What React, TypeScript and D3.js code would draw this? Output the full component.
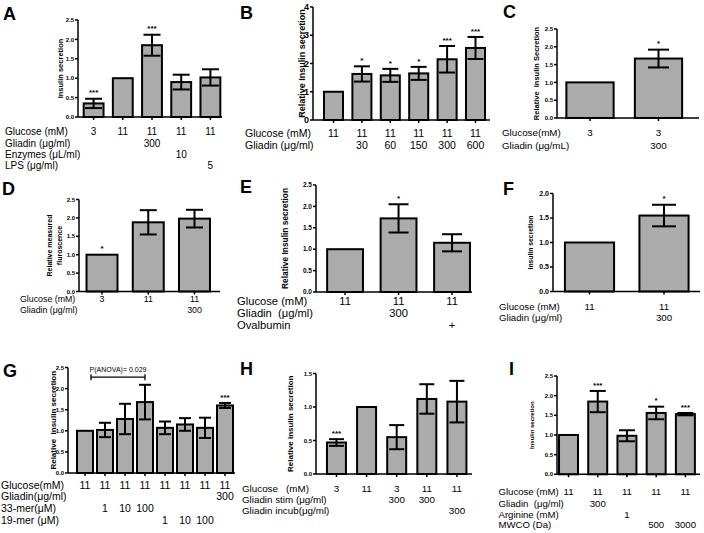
import React from "react";
import * as d3 from "d3";

const FONT = "'Liberation Sans', Arial, Helvetica, sans-serif";

// ---------- DATA ----------
// Panel A
const aValues = [0.35, 1.0, 1.85, 0.9, 1.02];
const aErrors = [0.12, 0, 0.27, 0.19, 0.21];
const aStars = ["***", "", "***", "", ""];
const aRowLabels = ["Glucose (mM)", "Gliadin (μg/ml)", "Enzymes (μL/ml)", "LPS (μg/ml)"];
const aRowValues = [
  ["3", "11", "11", "11", "11"],
  ["", "", "300", "", ""],
  ["", "", "", "10", ""],
  ["", "", "", "", "5"],
];

// Panel B
const bValues = [1.0, 1.63, 1.58, 1.65, 2.15, 2.55];
const bErrors = [0, 0.27, 0.23, 0.23, 0.47, 0.39];
const bStars = ["", "*", "*", "*", "***", "***"];
const bRowLabels = ["Glucose (mM)", "Gliadin (μg/ml)"];
const bRowValues = [
  ["11", "11", "11", "11", "11", "11"],
  ["", "30", "60", "150", "300", "600"],
];

// Panel C
const cValues = [1.0, 1.67];
const cErrors = [0, 0.25];
const cStars = ["", "*"];
const cRowLabels = ["Glucose(mM)", "Gliadin (μg/mL)"];
const cRowValues = [
  ["3", "3"],
  ["", "300"],
];

// Panel D
const dValues = [1.0, 1.88, 1.98];
const dErrors = [0, 0.33, 0.24];
const dStars = ["*", "", ""];
const dRowLabels = ["Glucose (mM)", "Gliadin (μg/ml)"];
const dRowValues = [
  ["3", "11", "11"],
  ["", "", "300"],
];

// Panel E
const eValues = [1.0, 1.72, 1.15];
const eErrors = [0, 0.33, 0.2];
const eStars = ["", "*", ""];
const eRowLabels = ["Glucose (mM)", "Gliadin  (μg/ml)", "Ovalbumin"];
const eRowValues = [
  ["11", "11", "11"],
  ["", "300", ""],
  ["", "", "+"],
];

// Panel F
const fValues = [1.0, 1.55];
const fErrors = [0, 0.22];
const fStars = ["", "*"];
const fRowLabels = ["Glucose (mM)", "Gliadin (μg/ml)"];
const fRowValues = [
  ["11", "11"],
  ["", "300"],
];

// Panel G
const gValues = [1.0, 1.02, 1.28, 1.68, 1.07, 1.15, 1.07, 1.6];
const gErrors = [0, 0.17, 0.36, 0.41, 0.15, 0.15, 0.24, 0.06];
const gStars = ["", "", "", "", "", "", "", "***"];
const gRowLabels = ["Glucose(mM)", "Gliadin(μg/ml)", "33-mer(μM)", "19-mer (μM)"];
const gRowValues = [
  ["11", "11", "11", "11", "11", "11", "11", "11"],
  ["", "", "", "", "", "", "", "300"],
  ["", "1", "10", "100", "", "", "", ""],
  ["", "", "", "", "1", "10", "100", ""],
];
const gAnovaText = "P(ANOVA)= 0.029";
const gAnovaFrom = 0;
const gAnovaTo = 3;
const gAnovaLevel = 2.27;

// Panel H
const hValues = [0.47, 1.0, 0.55, 1.12, 1.08];
const hErrors = [0.05, 0, 0.18, 0.22, 0.31];
const hStars = ["***", "", "", "", ""];
const hRowLabels = ["Glucose   (mM)", "Gliadin stim (μg/ml)", "Gliadin incub(μg/ml)"];
const hRowValues = [
  ["3", "11", "3", "11", "11"],
  ["", "", "300", "300", ""],
  ["", "", "", "", "300"],
];

// Panel I
const iValues = [1.0, 1.85, 0.98, 1.56, 1.53];
const iErrors = [0, 0.27, 0.14, 0.16, 0.03];
const iStars = ["", "***", "", "*", "***"];
const iRowLabels = ["Glucose (mM)", "Gliadin  (μg/ml)", "Arginine (mM)", "MWCO (Da)"];
const iRowValues = [
  ["11", "11", "11", "11", "11"],
  ["", "300", "", "", ""],
  ["", "", "1", "", ""],
  ["", "", "", "500", "3000"],
];

// ---------- LAYOUT ----------
type Layout = {
  letter: string; lx: number; ly: number;
  axisX: number; axisEnd: number; yTop: number; yBottom: number;
  yMax: number; yStep: number; fmt: string; tickFont: number;
  band: [number, number]; pad: number; cap: number;
  title: string[]; titleX: number; titleFont: number; titleGap?: number;
  rowX: number; rowYs: number[]; rowFont: number;
  starFont?: number;
};

type PanelData = {
  values: number[]; errors: number[]; stars: string[];
  rowLabels: string[]; rowValues: string[][];
};

const FILL = "#ababab";

function Panel({ L, D, children }: { L: Layout; D: PanelData; children?: (x: any, y: any) => React.ReactNode }) {
  const y = d3.scaleLinear().domain([0, L.yMax]).range([L.yBottom, L.yTop]);
  const x = d3
    .scaleBand<number>()
    .domain(d3.range(D.values.length))
    .range(L.band)
    .paddingInner(L.pad)
    .paddingOuter(L.pad / 2);
  const bw = x.bandwidth();
  const ticks = d3.range(0, L.yMax + 1e-9, L.yStep);
  const fmt = d3.format(L.fmt);
  const cy = (L.yTop + L.yBottom) / 2;
  const sf = L.starFont ?? 8;
  const tg = L.titleGap ?? 10;
  return (
    <g>
      <text x={L.lx} y={L.ly} fontSize={18} fontWeight="bold" fontFamily={FONT}>
        {L.letter}
      </text>
      {D.values.map((v, i) => (
        <rect
          key={"b" + i}
          x={x(i)}
          y={y(v)}
          width={bw}
          height={L.yBottom - y(v)}
          fill={FILL}
          stroke="#000"
          strokeWidth={2}
        />
      ))}
      {D.values.map((v, i) => {
        const e = D.errors[i];
        if (!e) return null;
        const cx = (x(i) as number) + bw / 2;
        const y1 = y(v + e);
        const y2 = y(v - e);
        return (
          <g key={"e" + i} stroke="#000" strokeWidth={2}>
            <line x1={cx} x2={cx} y1={y1} y2={y2} />
            <line x1={cx - L.cap / 2} x2={cx + L.cap / 2} y1={y1} y2={y1} />
            <line x1={cx - L.cap / 2} x2={cx + L.cap / 2} y1={y2} y2={y2} />
          </g>
        );
      })}
      {D.values.map((v, i) =>
        D.stars[i] ? (
          <text
            key={"s" + i}
            x={(x(i) as number) + bw / 2}
            y={y(v + D.errors[i]) - 8 + 0.58 * sf}
            fontSize={sf}
            fontWeight="bold"
            textAnchor="middle"
            fontFamily={FONT}
          >
            {D.stars[i]}
          </text>
        ) : null
      )}
      <g stroke="#000" strokeWidth={1.5}>
        <line x1={L.axisX} x2={L.axisX} y1={L.yTop} y2={L.yBottom} />
        <line x1={L.axisX} x2={L.axisEnd} y1={L.yBottom} y2={L.yBottom} />
        {ticks.map((t, i) => (
          <line key={"t" + i} x1={L.axisX - 3} x2={L.axisX} y1={y(t)} y2={y(t)} />
        ))}
        {D.values.map((_, i) => (
          <line
            key={"xt" + i}
            x1={(x(i) as number) + bw / 2}
            x2={(x(i) as number) + bw / 2}
            y1={L.yBottom}
            y2={L.yBottom + 3}
          />
        ))}
      </g>
      {ticks.map((t, i) => (
        <text
          key={"tl" + i}
          x={L.axisX - 4}
          y={y(t)}
          dy="0.35em"
          fontSize={L.tickFont}
          fontWeight="bold"
          textAnchor="end"
          fontFamily={FONT}
        >
          {fmt(t)}
        </text>
      ))}
      {L.title.map((s, i) => (
        <text
          key={"yt" + i}
          transform={`translate(${L.titleX + i * tg + 0.35 * L.titleFont},${cy}) rotate(-90)`}
          fontSize={L.titleFont}
          fontWeight="bold"
          textAnchor="middle"
          fontFamily={FONT}
          style={{ whiteSpace: "pre" }}
        >
          {s}
        </text>
      ))}
      {D.rowLabels.map((lab, r) => (
        <g key={"r" + r} fontSize={L.rowFont} fontFamily={FONT}>
          <text x={L.rowX} y={L.rowYs[r]} dy="0.35em" style={{ whiteSpace: "pre" }}>
            {lab}
          </text>
          {D.rowValues[r].map((val, i) =>
            val ? (
              <text
                key={i}
                x={(x(i) as number) + bw / 2}
                y={L.rowYs[r]}
                dy="0.35em"
                textAnchor="middle"
              >
                {val}
              </text>
            ) : null
          )}
        </g>
      ))}
      {children ? children(x, y) : null}
    </g>
  );
}

const LA: Layout = {
  letter: "A", lx: 3, ly: 20, axisX: 78, axisEnd: 222, yTop: 20, yBottom: 117,
  yMax: 2.5, yStep: 0.5, fmt: ".1f", tickFont: 6, band: [79, 225], pad: 0.32, cap: 17,
  title: ["Insulin secretion"], titleX: 60, titleFont: 7.5,
  rowX: 5, rowYs: [131.7, 143.3, 154.5, 165.8], rowFont: 10,
};
const LB: Layout = {
  letter: "B", lx: 240, ly: 18.5, axisX: 313, axisEnd: 490, yTop: 7, yBottom: 120,
  yMax: 4, yStep: 1, fmt: "d", tickFont: 9, band: [319.3, 489.7], pad: 0.33, cap: 16,
  title: ["Relative Insulin secretion"], titleX: 302, titleFont: 9,
  rowX: 245, rowYs: [133, 145], rowFont: 10.5,
};
const LC: Layout = {
  letter: "C", lx: 503, ly: 18, axisX: 557, axisEnd: 699, yTop: 29, yBottom: 118,
  yMax: 2.5, yStep: 0.5, fmt: ".1f", tickFont: 6, band: [555.75, 692.75], pad: 0.31, cap: 21,
  title: ["Relative  Insulin Secretion"], titleX: 536, titleFont: 7.5,
  rowX: 502, rowYs: [133, 146], rowFont: 9.8,
};
const LD: Layout = {
  letter: "D", lx: 2, ly: 195, axisX: 79, axisEnd: 220, yTop: 199.5, yBottom: 291.5,
  yMax: 2.5, yStep: 0.5, fmt: ".1f", tickFont: 6, band: [78.9, 217.6], pad: 0.33, cap: 17,
  title: ["Relative measured", "fluroscence"], titleX: 50, titleFont: 7, titleGap: 10,
  rowX: 20, rowYs: [299, 310], rowFont: 8.8,
};
const LE: Layout = {
  letter: "E", lx: 240, ly: 193, axisX: 316, axisEnd: 472, yTop: 185, yBottom: 292,
  yMax: 2.5, yStep: 0.5, fmt: ".1f", tickFont: 6.5, band: [318.3, 478.8], pad: 0.33, cap: 20,
  title: ["Relative Insulin secretion"], titleX: 285, titleFont: 8.4,
  rowX: 237, rowYs: [300.7, 313.5, 325.5], rowFont: 11.2,
};
const LF: Layout = {
  letter: "F", lx: 503, ly: 195, axisX: 553, axisEnd: 700, yTop: 193.5, yBottom: 291.5,
  yMax: 2.0, yStep: 0.5, fmt: ".1f", tickFont: 7, band: [552.25, 701.25], pad: 0.34, cap: 24,
  title: ["Insulin secretion"], titleX: 531, titleFont: 6.8,
  rowX: 499, rowYs: [306.7, 317.5], rowFont: 9.7,
};
const LG: Layout = {
  letter: "G", lx: 3, ly: 377, axisX: 68, axisEnd: 235, yTop: 367.5, yBottom: 473,
  yMax: 2.5, yStep: 0.5, fmt: ".1f", tickFont: 6, band: [75, 235], pad: 0.2, cap: 12,
  title: ["Relative  Insulin secretion"], titleX: 53, titleFont: 8,
  rowX: 1, rowYs: [485.3, 496.6, 508.6, 520.2], rowFont: 10.5,
};
const LH: Layout = {
  letter: "H", lx: 240, ly: 375, axisX: 316, axisEnd: 472, yTop: 373.5, yBottom: 474,
  yMax: 1.5, yStep: 0.5, fmt: ".1f", tickFont: 6, band: [321.4, 472], pad: 0.37, cap: 15,
  title: ["Relative insulin secretion"], titleX: 290, titleFont: 8,
  rowX: 242, rowYs: [488.3, 499.3, 510.7], rowFont: 9.8,
};
const LI: Layout = {
  letter: "I", lx: 509, ly: 375, axisX: 557, axisEnd: 700, yTop: 376, yBottom: 474.3,
  yMax: 2.5, yStep: 0.5, fmt: ".1f", tickFont: 6, band: [553.9, 700], pad: 0.35, cap: 16,
  title: ["Insulin secretion"], titleX: 532, titleFont: 6,
  rowX: 498.5, rowYs: [491.3, 503.5, 514.3, 524.7], rowFont: 9.6,
};

export default function App() {
  return (
    <svg
      width={704}
      height={533}
      style={{ position: "absolute", left: 0, top: 0, background: "#fff", display: "block" }}
    >
      <rect width={704} height={533} fill="#fff" />
      <Panel L={LA} D={{ values: aValues, errors: aErrors, stars: aStars, rowLabels: aRowLabels, rowValues: aRowValues }} />
      <Panel L={LB} D={{ values: bValues, errors: bErrors, stars: bStars, rowLabels: bRowLabels, rowValues: bRowValues }} />
      <Panel L={LC} D={{ values: cValues, errors: cErrors, stars: cStars, rowLabels: cRowLabels, rowValues: cRowValues }} />
      <Panel L={LD} D={{ values: dValues, errors: dErrors, stars: dStars, rowLabels: dRowLabels, rowValues: dRowValues }} />
      <Panel L={LE} D={{ values: eValues, errors: eErrors, stars: eStars, rowLabels: eRowLabels, rowValues: eRowValues }} />
      <Panel L={LF} D={{ values: fValues, errors: fErrors, stars: fStars, rowLabels: fRowLabels, rowValues: fRowValues }} />
      <Panel L={LG} D={{ values: gValues, errors: gErrors, stars: gStars, rowLabels: gRowLabels, rowValues: gRowValues }}>
        {(x: any, y: any) => {
          const bw = x.bandwidth();
          const x1 = x(gAnovaFrom) + bw / 2 + 6;
          const x2 = x(gAnovaTo) + bw / 2;
          const yy = y(gAnovaLevel);
          return (
            <g>
              <g stroke="#000" strokeWidth={1.3}>
                <line x1={x1} x2={x2} y1={yy} y2={yy} />
                <line x1={x1} x2={x1} y1={yy - 3} y2={yy + 3} />
                <line x1={x2} x2={x2} y1={yy - 3} y2={yy + 3} />
              </g>
              <text
                x={(x1 + x2) / 2}
                y={yy - 8}
                dy="0.35em"
                fontSize={7}
                textAnchor="middle"
                fontFamily={FONT}
              >
                {gAnovaText}
              </text>
            </g>
          );
        }}
      </Panel>
      <Panel L={LH} D={{ values: hValues, errors: hErrors, stars: hStars, rowLabels: hRowLabels, rowValues: hRowValues }} />
      <Panel L={LI} D={{ values: iValues, errors: iErrors, stars: iStars, rowLabels: iRowLabels, rowValues: iRowValues }} />
    </svg>
  );
}
